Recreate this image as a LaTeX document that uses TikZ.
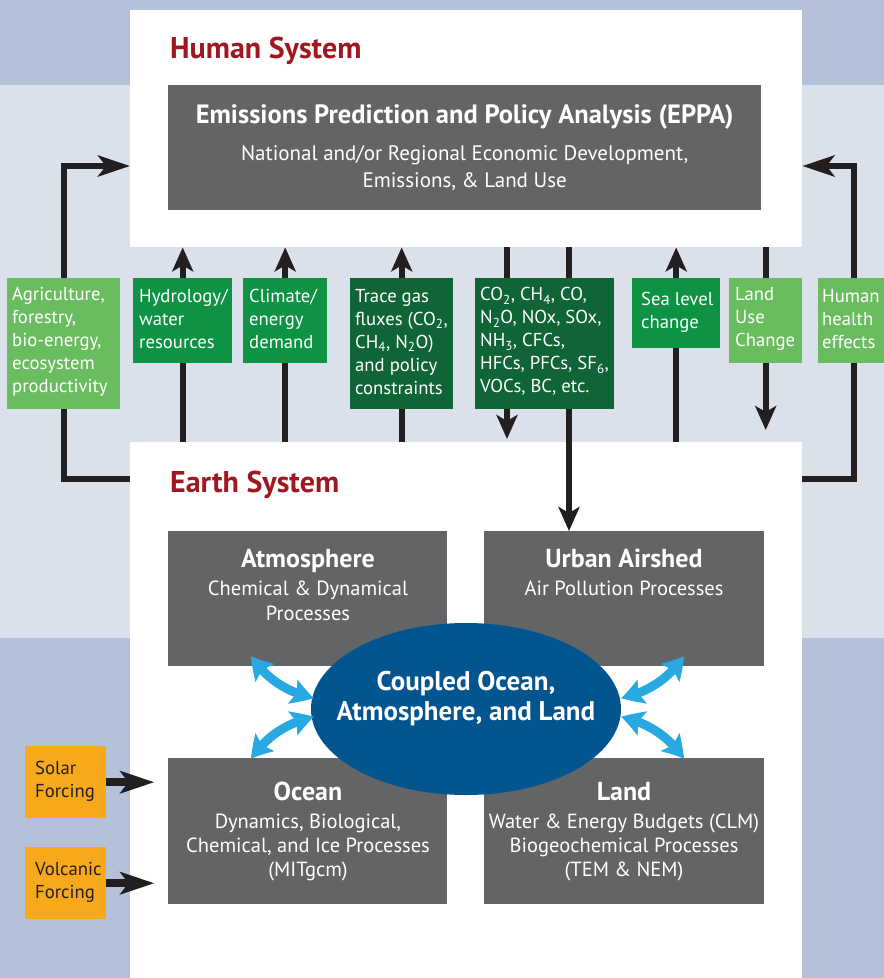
\documentclass[tikz,border=0pt]{standalone}
\usepackage{fontspec}
\setmainfont{PT Sans}
\usetikzlibrary{arrows.meta,bending,shapes.geometric,calc}
\definecolor{bandA}{HTML}{B5C1D9}
\definecolor{bandB}{HTML}{DBE1EB}
\definecolor{boxgray}{HTML}{636466}
\definecolor{titlered}{HTML}{A0171F}
\definecolor{glight}{HTML}{6ABD5F}
\definecolor{gmid}{HTML}{0D9343}
\definecolor{gdark}{HTML}{0F6535}
\definecolor{ellblue}{HTML}{02558F}
\definecolor{arrblue}{HTML}{29A9E1}
\definecolor{forceorange}{HTML}{F7A81B}
\definecolor{inkblack}{HTML}{231F20}
\pgfdeclarelayer{bg}
\pgfdeclarelayer{arr}
\pgfsetlayers{bg,arr,main}
\newcommand\sysfont{\bfseries\fontsize{30}{34}\selectfont}
\newcommand\boxtitlefont{\bfseries\fontsize{26}{28}\selectfont}
\newcommand\boxsubfont{\fontsize{20.5}{24}\selectfont}
\newcommand\greenfont{\fontsize{18.7}{23}\selectfont}
\newcommand\corefont{\bfseries\fontsize{27}{30}\selectfont}
\newcommand\chemsub[1]{\textsubscript{#1}}
\tikzset{
  panel/.style={rectangle, fill=white, anchor=north west, inner sep=0pt},
  graybox/.style={rectangle, fill=boxgray, anchor=north west, inner sep=0pt},
  gbox/.style={rectangle, anchor=north west, inner sep=0pt},
  gtext/.style={anchor=west, align=left, text=white, font=\greenfont, inner sep=0pt},
  boxtext/.style={anchor=base, align=center, text=white, font=\boxsubfont, inner sep=0pt},
  systitle/.style={anchor=base west, text=titlered, font=\sysfont, inner sep=0pt},
  force/.style={rectangle, fill=forceorange, anchor=north west, inner sep=0pt,
    minimum width=81pt, minimum height=72pt},
  ftext/.style={anchor=west, align=left, text=inkblack, font=\greenfont, inner sep=0pt},
  vert/.style={draw=inkblack, line width=6pt, -{Stealth[length=24pt,width=21pt,inset=6pt]}},
  loopline/.style={draw=inkblack, line width=6pt, -{Stealth[length=32pt,width=21pt,inset=8pt]}},
  forcearrow/.style={draw=inkblack, line width=8pt, -{Stealth[length=34pt,width=22pt,inset=8pt]}},
  blue2/.style={draw=arrblue, line width=9pt,
    {Stealth[length=22pt,width=25pt,inset=4pt,bend]}-{Stealth[length=22pt,width=25pt,inset=4pt,bend]}}
}
\begin{document}
\begin{tikzpicture}[x=1pt,y=-1pt]
\useasboundingbox (0,0) rectangle (884,978);
\begin{pgfonlayer}{bg}
  \fill[bandA] (0,0) rectangle (884,85);
  \fill[bandB] (0,85) rectangle (884,638);
  \fill[bandA] (0,638) rectangle (884,978);
  \node[panel, minimum width=672pt, minimum height=237pt] (human) at (130,10) {};
  \node[panel, minimum width=672pt, minimum height=536pt] (earth) at (130,442) {};
\end{pgfonlayer}

% titles
\node[systitle] (humantitle) at (170,58) {Human System};
\node[systitle] (earthtitle) at (170,492) {Earth System};

% EPPA
\node[graybox, minimum width=593pt, minimum height=125pt, align=center, text=white,
  font=\fontsize{21}{27}\selectfont] (eppa) at (168,85)
  {{\bfseries\fontsize{26.5}{27}\selectfont Emissions Prediction and Policy Analysis (EPPA)}\\[10pt]
   National and/or Regional Economic Development,\\ Emissions, \& Land Use};

% green boxes
\node[gbox, fill=glight, minimum width=113pt, minimum height=131pt] (agri) at (7,278) {};
\node[gtext] (agritext) at ($(agri.west)+(5,-2)$)
  {Agriculture,\\ forestry,\\ bio-energy,\\ ecosystem\\ productivity};
\node[gbox, fill=gmid, minimum width=99pt, minimum height=85pt] (hydro) at (133,278) {};
\node[gtext] (hydrotext) at ($(hydro.west)+(6,-2)$) {Hydrology/\\ water\\ resources};
\node[gbox, fill=gmid, minimum width=84pt, minimum height=85pt] (clim) at (243,278) {};
\node[gtext] (climtext) at ($(clim.west)+(6,-2)$) {Climate/\\ energy\\ demand};
\node[gbox, fill=gdark, minimum width=103pt, minimum height=131pt] (trace) at (350,278) {};
\node[gtext] (tracetext) at ($(trace.west)+(5,-2)$)
  {Trace gas\\ fluxes (CO\chemsub{2},\\ CH\chemsub{4}, N\chemsub{2}O)\\ and policy\\ constraints};
\node[gbox, fill=gdark, minimum width=139pt, minimum height=131pt] (emis) at (475,278) {};
\node[gtext] (emistext) at ($(emis.west)+(5,-2)$)
  {CO\chemsub{2}, CH\chemsub{4}, CO,\\ N\chemsub{2}O, NOx, SOx,\\ NH\chemsub{3}, CFCs,\\ HFCs, PFCs, SF\chemsub{6},\\ VOCs, BC, etc.};
\node[gbox, fill=gmid, minimum width=88pt, minimum height=70pt] (sea) at (632,278) {};
\node[gtext] (seatext) at ($(sea.west)+(9,-1)$) {Sea level\\ change};
\node[gbox, fill=glight, minimum width=73pt, minimum height=85pt] (landuse) at (729,278) {};
\node[gtext] (landusetext) at ($(landuse.west)+(6,-2)$) {Land\\ Use\\ Change};
\node[gbox, fill=glight, minimum width=66pt, minimum height=85pt] (health) at (818,278) {};
\node[gtext] (healthtext) at ($(health.west)+(4,-2)$) {Human\\ health\\ effects};

% earth boxes
\node[graybox, minimum width=279pt, minimum height=135pt] (atm) at (168,531) {};
\node[graybox, minimum width=280pt, minimum height=135pt] (urban) at (484,531) {};
\node[graybox, minimum width=279pt, minimum height=146pt] (ocean) at (168,758) {};
\node[graybox, minimum width=280pt, minimum height=146pt] (land) at (484,758) {};

\node[boxtext] (atmtext) at (308,620)
  {{\boxtitlefont Atmosphere}\\[4pt] Chemical \& Dynamical\\[1pt] Processes};
\node[boxtext] (urbantext) at (624,595)
  {{\boxtitlefont Urban Airshed}\\[4pt] Air Pollution Processes};
\node[boxtext] (oceantext) at (308,876)
  {{\boxtitlefont Ocean}\\[4pt] Dynamics, Biological,\\ Chemical, and Ice Processes\\ (MITgcm)};
\node[boxtext] (landtext) at (624,876)
  {{\boxtitlefont Land}\\[4pt] Water \& Energy Budgets (CLM)\\ Biogeochemical Processes\\ (TEM \& NEM)};

% core ellipse
\node[ellipse, fill=ellblue, minimum width=310pt, minimum height=172pt, inner sep=0pt] (core) at (466,709) {};
\node[align=center, text=white, font=\corefont, inner sep=0pt] (coretext) at (466,699)
  {Coupled Ocean,\\ Atmosphere, and Land};

% forcing
\node[force] (solar) at (25,746) {};
\node[ftext] (solartext) at ($(solar.west)+(10,-1)$) {Solar\\ Forcing};
\node[force] (volcanic) at (25,847) {};
\node[ftext] (volcanictext) at ($(volcanic.west)+(10,-1)$) {Volcanic\\ Forcing};
\draw[forcearrow] (solar.east) -- ($(solar.east)+(48,0)$);
\draw[forcearrow] (volcanic.east) -- ($(volcanic.east)+(48,0)$);

% black arrows
\coordinate (e1) at ($(emis.south west)+(32,0)$);
\coordinate (e2) at ($(emis.south west)+(94,0)$);
\coordinate (rx) at ($(health.center)+(3,0)$);
\begin{pgfonlayer}{arr}
  \draw[vert] (earth.north -| hydro) -- (human.south -| hydro);
  \draw[vert] (earth.north -| clim) -- (human.south -| clim);
  \draw[vert] (earth.north -| trace) -- (human.south -| trace);
  \draw[vert] (earth.north -| sea) -- (human.south -| sea);
  \draw[vert] (human.south -| e1) -- ($(earth.north -| e1)+(0,-3)$);
  \draw[vert] (human.south -| e2) -- (urban.north -| e2);
  \draw[vert] (human.south -| landuse) -- ($(earth.north -| landuse)+(0,-12)$);
  \draw[loopline] ($(earth.north west)+(0,37)$) -| (agri.center) |- ($(human.north west)+(0,156)$);
  \draw[loopline] ($(earth.north east)+(0,37)$) -| (rx) |- ($(human.north east)+(0,156)$);
\end{pgfonlayer}

% blue exchange arrows
\coordinate (la1) at (251,656); \coordinate (lb1) at (314,698);
\coordinate (la2) at (314,717); \coordinate (lb2) at (251,759);
\coordinate (ra1) at (684,656); \coordinate (rb1) at (621,698);
\coordinate (ra2) at (621,717); \coordinate (rb2) at (684,759);
\draw[blue2] (la1) .. controls (267,680) and (289,693) .. (lb1);
\draw[blue2] (la2) .. controls (289,722) and (267,735) .. (lb2);
\draw[blue2] (ra1) .. controls (668,680) and (646,693) .. (rb1);
\draw[blue2] (ra2) .. controls (646,722) and (668,735) .. (rb2);
\end{tikzpicture}
\end{document}
